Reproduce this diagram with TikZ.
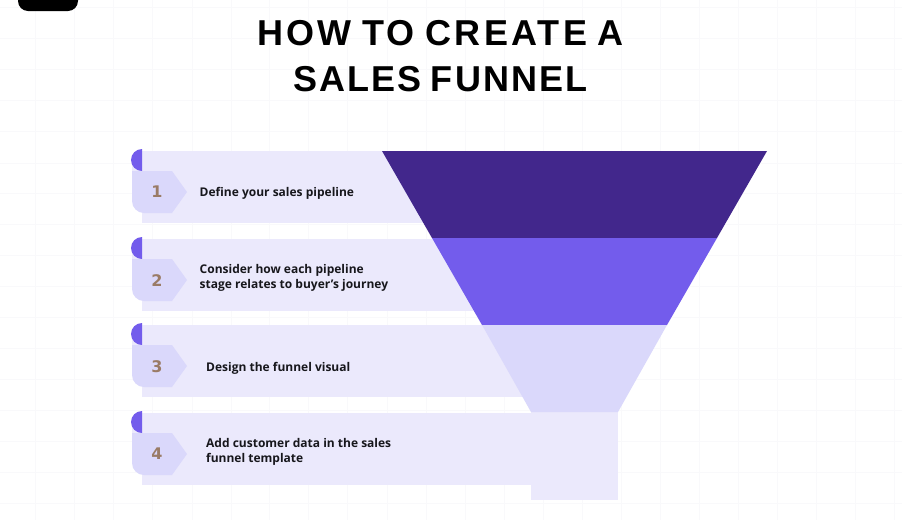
\documentclass[tikz,border=0pt]{standalone}
\usepackage{fontspec}
\setmainfont{Open Sans}
\newfontfamily\titlefont[LetterSpace=6,WordSpace=0.75]{Liberation Sans}
\newfontfamily\titlefontwide[LetterSpace=9,WordSpace=0.8]{Liberation Sans}
\newfontfamily\numfont{DejaVu Sans}
\definecolor{griddc}{HTML}{F9F9FB}
\definecolor{bandc}{HTML}{EBE9FC}
\definecolor{tabc}{HTML}{DAD8FB}
\definecolor{dotc}{HTML}{735CEC}
\definecolor{darkc}{HTML}{42278C}
\definecolor{midc}{HTML}{735CEC}
\definecolor{numc}{HTML}{9A7B66}
\definecolor{inkc}{HTML}{17171C}
\tikzset{
  titletext/.style={font=\titlefont\fontsize{36}{36}\selectfont\bfseries, text=black, inner sep=0pt, anchor=center},
  titlewide/.style={font=\titlefontwide\fontsize{36}{36}\selectfont\bfseries, text=black, inner sep=0pt, anchor=center},
  steptext/.style={font=\fontsize{12}{15}\selectfont\bfseries, text=inkc, inner sep=0pt, anchor=west, align=left},
  numtext/.style={font=\numfont\fontsize{16}{16}\selectfont\bfseries, text=numc, inner sep=0pt, anchor=center},
  gridline/.style={draw=griddc, line width=0.8pt},
}
\newcommand{\steptab}[2]{%
  \fill[bandc] (142,#1+2) rectangle (#2,#1+74);
  \fill[bandc] (132,#1+11) rectangle (142,#1+23);
  \fill[dotc] (142,#1) arc[start angle=270, end angle=90, radius=11] -- cycle;
  \fill[tabc] (132,#1+22) -- (172,#1+22) -- (187,#1+43) -- (172,#1+64) -- (144,#1+64)
     arc[start angle=90, end angle=180, radius=12] -- cycle;
}
\begin{document}
\begin{tikzpicture}[x=1pt,y=-1pt]
\useasboundingbox (0,0) rectangle (902,520);
\fill[white] (0,0) rectangle (902,520);
\foreach \gx in {35,74,113,152,192,231,269,308,347,387,426,465,504,543,582,621,660,699,738,777,816,855,894}
  \draw[gridline] (\gx,0) -- (\gx,520);
\foreach \gy in {7,38,69,100,131,163,193,224,255,286,317,348,379,410,441,472,503}
  \draw[gridline] (0,\gy) -- (902,\gy);
\fill[black, rounded corners=10pt] (18,-15) rectangle (78,11);
\steptab{149}{440}
\steptab{237}{490}
\steptab{323}{540}
\steptab{411}{560}
\fill[bandc] (531,412) rectangle (618,500);
\fill[darkc] (382,151) -- (767,151) -- (717,238) -- (432,238) -- cycle;
\fill[midc] (432,238) -- (717,238) -- (667,325) -- (482,325) -- cycle;
\fill[tabc] (482,325) -- (667,325) -- (618,412) -- (531,412) -- cycle;
\node[titlewide] (t1) at (440.5,33) {HOW TO CREATE A};
\node[titletext] (t2) at (440.5,79) {SALES FUNNEL};
\node[numtext] (n1) at (157,192) {1};
\node[numtext] (n2) at (157,281) {2};
\node[numtext] (n3) at (157,367) {3};
\node[numtext] (n4) at (157,454) {4};
\node[steptext] (s1) at (199.5,193.5) {Define your sales pipeline};
\node[steptext] (s2) at (199.5,278) {Consider how each pipeline\\stage relates to buyer's journey};
\node[steptext] (s3) at (206,368.5) {Design the funnel visual};
\node[steptext] (s4) at (206,452) {Add customer data in the sales\\funnel template};
\end{tikzpicture}
\end{document}
